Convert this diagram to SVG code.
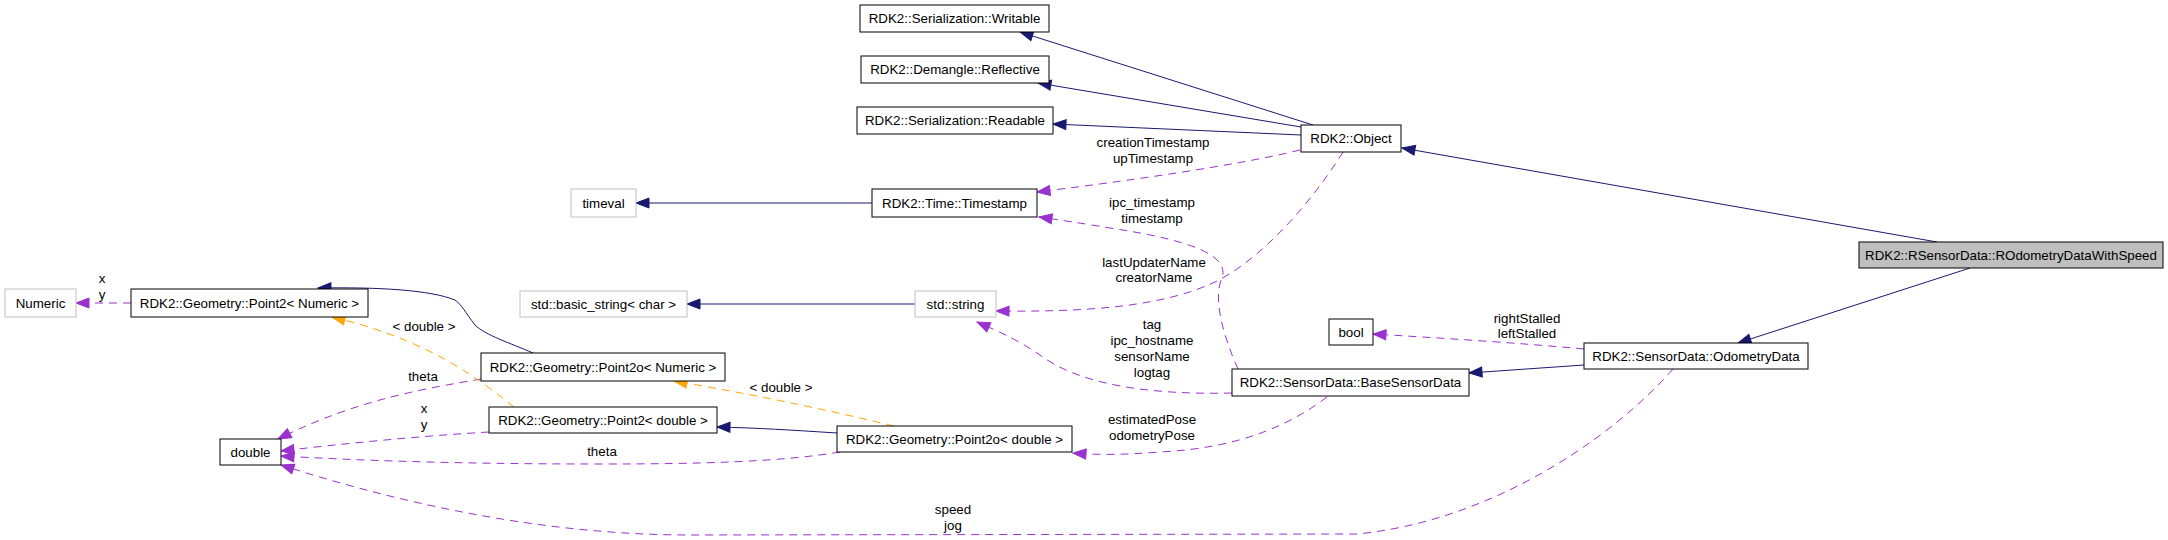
<svg xmlns="http://www.w3.org/2000/svg" width="2168" height="540" viewBox="0 0 2168 540">
<style>
.n rect{fill:#fff;stroke:#000;stroke-width:1}
.u rect{fill:#fff;stroke:#bfbfbf;stroke-width:1}
.g rect{fill:#bfbfbf;stroke:#000;stroke-width:1}
text{font-family:"Liberation Sans",Arial,Helvetica,sans-serif;font-size:13.33px;fill:#000;text-anchor:middle}
.e path{fill:none;stroke-width:1}
.e .b{stroke:#191970}
.e .p{stroke:#9a32cd;stroke-dasharray:8,6}
.e .o{stroke:#ffa500;stroke-dasharray:8,6}
</style>
<defs>
<marker id="mb" markerUnits="userSpaceOnUse" markerWidth="16" markerHeight="12" refX="14" refY="6" orient="auto"><path d="M1,1 L14,6 L1,11 z" fill="#191970" stroke="#191970"/></marker>
<marker id="mp" markerUnits="userSpaceOnUse" markerWidth="16" markerHeight="12" refX="14" refY="6" orient="auto"><path d="M1,1 L14,6 L1,11 z" fill="#9a32cd" stroke="#9a32cd"/></marker>
<marker id="mo" markerUnits="userSpaceOnUse" markerWidth="16" markerHeight="12" refX="14" refY="6" orient="auto"><path d="M1,1 L14,6 L1,11 z" fill="#ffa500" stroke="#ffa500"/></marker>
</defs>
<rect width="2168" height="540" fill="#fff"/>
<g id="edges" class="e">
<path class="b" d="M1937,242 L1402,148" marker-end="url(#mb)"/>
<path class="b" d="M1970,268 L1738,343" marker-end="url(#mb)"/>
<path class="b" d="M1313,125 L1020,32" marker-end="url(#mb)"/>
<path class="b" d="M1301,127 L1038,83" marker-end="url(#mb)"/>
<path class="b" d="M1301,135 L1053,124" marker-end="url(#mb)"/>
<path class="b" d="M872,203 L636,203" marker-end="url(#mb)"/>
<path class="b" d="M915,304 L687,304" marker-end="url(#mb)"/>
<path class="b" d="M1584,365 L1469,373" marker-end="url(#mb)"/>
<path class="b" d="M837,433 C790,430 760,428 717,427" marker-end="url(#mb)"/>
<path class="b" d="M533,353 C510,343 485,335 475,325 C465,312 462,305 455,300 C430,290 380,287 318,288" marker-end="url(#mb)"/>
<path class="p" d="M1300,150 C1240,165 1120,182 1037,192" marker-end="url(#mp)"/>
<path class="p" d="M1343,152 C1310,205 1260,260 1215,282 C1160,308 1080,312 996,311" marker-end="url(#mp)"/>
<path class="p" d="M1238,369 C1225,340 1212,300 1222,278 C1230,255 1190,240 1110,228 C1080,223 1060,220 1039,217" marker-end="url(#mp)"/>
<path class="p" d="M1232,393 C1150,395 1080,385 1040,355 C1015,338 995,330 977,322" marker-end="url(#mp)"/>
<path class="p" d="M1584,349 C1520,343 1440,338 1373,334" marker-end="url(#mp)"/>
<path class="p" d="M1327,397 C1290,425 1240,448 1160,452 C1120,455 1100,455 1073,453" marker-end="url(#mp)"/>
<path class="p" d="M1673,369 C1620,430 1500,520 1357,534 L690,535 C560,535 420,510 281,465" marker-end="url(#mp)"/>
<path class="p" d="M840,452 C780,462 700,464 600,464 C450,464 350,460 281,456" marker-end="url(#mp)"/>
<path class="p" d="M489,432 C420,436 340,444 281,451" marker-end="url(#mp)"/>
<path class="p" d="M481,379 C430,388 360,398 278,439" marker-end="url(#mp)"/>
<path class="p" d="M131,303 L76,303" marker-end="url(#mp)"/>
<path class="o" d="M514,407 C480,380 430,340 332,317" marker-end="url(#mo)"/>
<path class="o" d="M894,426 C820,408 740,392 674,381" marker-end="url(#mo)"/>
<text x="102" y="283">x</text><text x="102" y="299">y</text>
<text x="424" y="331">&lt; double &gt;</text>
<text x="423" y="381">theta</text>
<text x="424" y="413">x</text><text x="424" y="429">y</text>
<text x="602" y="456">theta</text>
<text x="781" y="392">&lt; double &gt;</text>
<text x="1153" y="147">creationTimestamp</text><text x="1153" y="163">upTimestamp</text>
<text x="1152" y="207">ipc_timestamp</text><text x="1152" y="223">timestamp</text>
<text x="1154" y="267">lastUpdaterName</text><text x="1154" y="282">creatorName</text>
<text x="1152" y="329">tag</text><text x="1152" y="345">ipc_hostname</text><text x="1152" y="361">sensorName</text><text x="1152" y="377">logtag</text>
<text x="1527" y="323">rightStalled</text><text x="1527" y="338">leftStalled</text>
<text x="1152" y="424">estimatedPose</text><text x="1152" y="440">odometryPose</text>
<text x="953" y="514">speed</text><text x="953" y="530">jog</text>
</g>
<g id="node-writable" class="n"><rect x="860" y="5" width="189" height="27"/><text x="954.5" y="23">RDK2::Serialization::Writable</text></g>
<g id="node-reflective" class="n"><rect x="861" y="56" width="188" height="27"/><text x="955" y="74">RDK2::Demangle::Reflective</text></g>
<g id="node-readable" class="n"><rect x="857" y="107" width="196" height="27"/><text x="955" y="125">RDK2::Serialization::Readable</text></g>
<g id="node-object" class="n"><rect x="1301" y="125" width="100" height="27"/><text x="1351" y="143">RDK2::Object</text></g>
<g id="node-timeval" class="u"><rect x="571" y="189" width="65" height="28"/><text x="603.5" y="207.5">timeval</text></g>
<g id="node-timestamp" class="n"><rect x="872" y="189" width="165" height="28"/><text x="954.5" y="207.5">RDK2::Time::Timestamp</text></g>
<g id="node-rodws" class="g"><rect x="1859" y="242" width="304" height="26"/><text x="2011" y="259.5">RDK2::RSensorData::ROdometryDataWithSpeed</text></g>
<g id="node-numeric" class="u"><rect x="5" y="289" width="71" height="28"/><text x="40.5" y="307.5">Numeric</text></g>
<g id="node-point2-numeric" class="n"><rect x="131" y="289" width="237" height="28"/><text x="249.5" y="307.5">RDK2::Geometry::Point2&lt; Numeric &gt;</text></g>
<g id="node-basic-string" class="u"><rect x="520" y="291" width="167" height="26"/><text x="603.5" y="308.5">std::basic_string&lt; char &gt;</text></g>
<g id="node-string" class="u"><rect x="915" y="291" width="81" height="26"/><text x="955.5" y="308.5">std::string</text></g>
<g id="node-bool" class="n"><rect x="1329" y="319" width="44" height="26"/><text x="1351" y="336.5">bool</text></g>
<g id="node-odometrydata" class="n"><rect x="1584" y="343" width="224" height="26"/><text x="1696" y="360.5">RDK2::SensorData::OdometryData</text></g>
<g id="node-point2o-numeric" class="n"><rect x="481" y="353" width="244" height="28"/><text x="603" y="371.5">RDK2::Geometry::Point2o&lt; Numeric &gt;</text></g>
<g id="node-basesensordata" class="n"><rect x="1232" y="369" width="237" height="27"/><text x="1350.5" y="387">RDK2::SensorData::BaseSensorData</text></g>
<g id="node-point2-double" class="n"><rect x="489" y="407" width="228" height="26"/><text x="603" y="424.5">RDK2::Geometry::Point2&lt; double &gt;</text></g>
<g id="node-point2o-double" class="n"><rect x="837" y="426" width="235" height="26"/><text x="954.5" y="443.5">RDK2::Geometry::Point2o&lt; double &gt;</text></g>
<g id="node-double" class="n"><rect x="220" y="439" width="61" height="26"/><text x="250.5" y="456.5">double</text></g>
</svg>
